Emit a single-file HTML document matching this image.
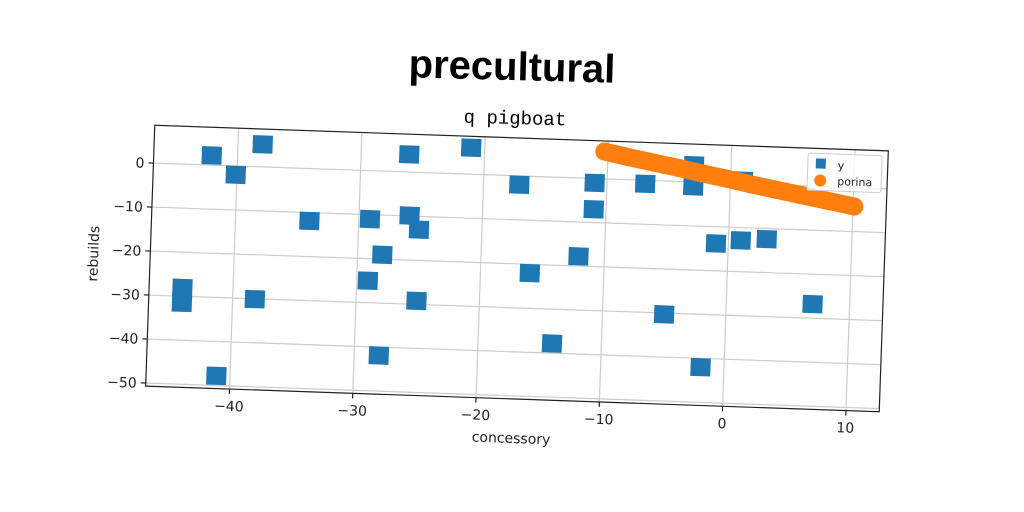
<!DOCTYPE html>
<html><head><meta charset="utf-8"><style>
body{margin:0;background:#fff;}
svg{display:block;font-family:"DejaVu Sans","Liberation Sans",sans-serif;}
</style></head><body>
<svg id="chart" width="1024" height="512" viewBox="0 0 1024 512" xmlns="http://www.w3.org/2000/svg">
<rect width="1024" height="512" fill="#fff"/>
<text x="512" y="80" text-anchor="middle" font-family="Liberation Sans, sans-serif" font-weight="bold" font-size="40" fill="#000" transform="rotate(1.5 512 67)">precultural</text>
<text x="515" y="124" text-anchor="middle" font-family="Liberation Mono, monospace" font-size="19" fill="#000" transform="rotate(1.5 515 117)">q pigboat</text>
<g id="plot" transform="rotate(2 517 268)"></g>
</svg>
<script>
const xTicks=[-40,-30,-20,-10,0,10];
const yTicks=[0,-10,-20,-30,-40,-50];
const yX=[-42.1,-38,-40.1,-34,-29.1,-25.9,-25.1,-28,-29.1,-25.1,-28,-44.1,-44.1,-38.2,-41.1,-26.1,-21.1,-17.1,-16,-12.1,-14,-11,-11,-6.9,-3,-3,1,-1,1,3.1,-5,-1.9,7];
const yY=[2.2,5.1,-2,-11.9,-11,-9.9,-13,-19,-25,-29.2,-41.9,-28.1,-31.5,-30.1,-47.8,4,6,-2,-22,-17.8,-37.8,-1,-7,-0.8,3.8,-1,0.7,-13.8,-12.9,-12.4,-30.3,-42,-26.8];
const pX=[-10.3,-8.3,-6.3,-4.3,-2.3,-0.3,1.7,3.7,5.7,7.7,10.1];
const pY=[6.2,5.1,4.1,3.1,2,1,-0.1,-1.1,-2.1,-3.1,-4.3];
const X0=150,X1=884,Y0=138,Y1=399,xmin=-46.8,xmax=12.7,ymin=-50.7,ymax=8.6;
const sx=v=>X0+(v-xmin)/(xmax-xmin)*(X1-X0);
const sy=v=>Y1-(v-ymin)/(ymax-ymin)*(Y1-Y0);
const g=document.getElementById('plot');
const NS='http://www.w3.org/2000/svg';
function mk(t,a){const e=document.createElementNS(NS,t);for(const k in a)e.setAttribute(k,a[k]);g.appendChild(e);return e;}
xTicks.forEach(t=>{
 const l=mk('line',{x1:sx(t),x2:sx(t),y1:Y0,y2:Y1+4,stroke:'#ccc','stroke-width':1.2});
 
 
 const k=mk('line',{x1:sx(t),x2:sx(t),y1:Y1,y2:Y1+5,stroke:'#000'});
 
 
 const tx=mk('text',{x:sx(t),y:Y1+22,'text-anchor':'middle','font-size':14,fill:'#222'});
 tx.textContent=(t<0?'\u2212'+(-t):t);
 
 
});
yTicks.forEach(t=>{
 const l=mk('line',{x1:X0-4,x2:X1,y1:sy(t),y2:sy(t),stroke:'#ccc','stroke-width':1.2});
 
 
 const k=mk('line',{x1:X0-5,x2:X0,y1:sy(t),y2:sy(t),stroke:'#000'});
 
 
 const tx=mk('text',{x:X0-9,y:sy(t)+5,'text-anchor':'end','font-size':14,fill:'#222'});
 tx.textContent=(t<0?'\u2212'+(-t):t);
 
 
});
const fr=mk('rect',{x:X0,y:Y0,width:X1-X0,height:Y1-Y0,fill:'none',stroke:'#222','stroke-width':1.2});


yX.forEach((v,i)=>{
 const r=mk('rect',{x:sx(v)-10,y:sy(yY[i])-9,width:20,height:18,fill:'#1f77b4'});
 
 
});
pX.forEach((v,i)=>{
 if(i>0){const l=mk('line',{x1:sx(pX[i-1]),y1:sy(pY[i-1]),x2:sx(v),y2:sy(pY[i]),stroke:'#ff7f0e','stroke-width':18,'stroke-linecap':'round'});
 
 }
 const c=mk('circle',{cx:sx(v),cy:sy(pY[i]),r:9,fill:'#ff7f0e'});
 
 
});
const lg=mk('rect',{x:X1-80,y:Y0+5,width:74,height:37,fill:'#fff','fill-opacity':0.8,stroke:'#ccc',rx:2});


const l1=mk('rect',{x:X1-72,y:Y0+10,width:10,height:10,fill:'#1f77b4'});


const t1=mk('text',{x:X1-50,y:Y0+20,'font-size':11,fill:'#222'});t1.textContent='y';


const l2=mk('circle',{cx:X1-67,cy:Y0+32,r:6,fill:'#ff7f0e'});


const t2=mk('text',{x:X1-50,y:Y0+36,'font-size':11,fill:'#222'});t2.textContent='porina';


const xl=mk('text',{x:(X0+X1)/2,y:Y1+44,'text-anchor':'middle','font-size':14,fill:'#222'});xl.textContent='concessory';


const yl=mk('text',{x:0,y:0,'text-anchor':'middle','font-size':14,fill:'#222',transform:`translate(${X0-52},${(Y0+Y1)/2}) rotate(-90)`});yl.textContent='rebuilds';


</script>
</body></html>
